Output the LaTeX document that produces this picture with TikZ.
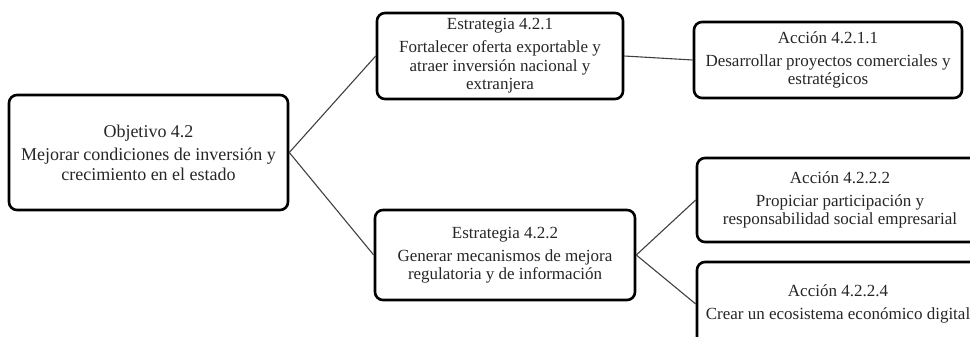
\documentclass[tikz,border=0pt]{standalone}
\usepackage{fontspec}
\setmainfont{Liberation Serif}
\tikzset{caja/.style={draw,line width=2.6pt,rounded corners=8pt,align=center,
                      font=\fontsize{17}{18.5}\selectfont,text=black!85,inner sep=2pt},
         rama/.style={draw=black!75,line width=1.1pt}}

\begin{document}
\begin{tikzpicture}[x=1pt,y=-1pt]
                    \clip (0,0) rectangle (970,337);
                    \node[caja,font=\fontsize{18}{20}\selectfont,minimum width=279,minimum height=115] (obj) at (148.5,152.5)
                        {Objetivo 4.2\\[3pt] Mejorar condiciones de inversión y\\ crecimiento en el estado};
                    \node[caja,minimum width=246,minimum height=86] (estr1) at (500,56)
                        {Estrategia 4.2.1\\[4.5pt] Fortalecer oferta exportable y\\ atraer inversión nacional y\\ extranjera};
                    \node[caja,minimum width=260,minimum height=90] (estr2) at (505,255)
                        {Estrategia 4.2.2\\[4.5pt] Generar mecanismos de mejora\\ regulatoria y de información};
                    \node[caja,minimum width=268,minimum height=76] (acc1) at (828,60)
                        {Acción 4.2.1.1\\[4.5pt] Desarrollar proyectos comerciales y\\ estratégicos};
                    \node[caja,minimum width=286,minimum height=84] (acc2) at (840,200)
                        {Acción 4.2.2.2\\[4.5pt] Propiciar participación y\\ responsabilidad social empresarial};
                    \node[caja,minimum width=282,minimum height=84] (acc4) at (838,304)
                        {Acción 4.2.2.4\\[4.5pt] Crear un ecosistema económico digital};
                    % ramas
                    \draw[rama] (obj.east) -- (estr1.west);
                    \draw[rama] (obj.east) -- (estr2.west);
                    \draw[rama] (estr1.east) -- (acc1.west);
                    \draw[rama] (estr2.east) -- (acc2.west);
                    \draw[rama] (estr2.east) -- (acc4.west);
                \end{tikzpicture}
\end{document}
